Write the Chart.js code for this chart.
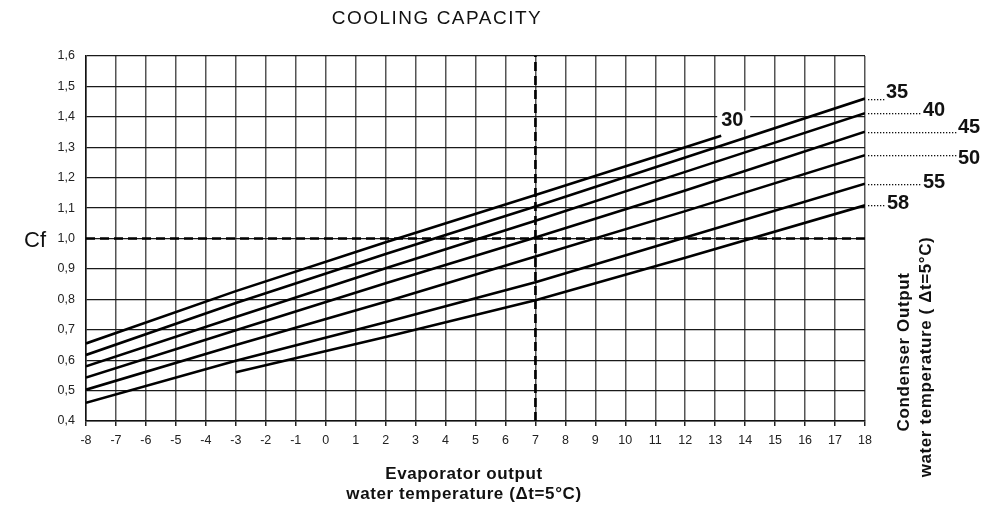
<!DOCTYPE html>
<html><head><meta charset="utf-8">
<script src="https://cdn.jsdelivr.net/npm/chart.js@4"></script>
<style>html,body{margin:0;padding:0;background:#fff}#wrap{width:997px;height:508px;position:relative}</style>
</head><body><div id="wrap"><canvas id="c" width="997" height="508"></canvas></div>
<script>
// ---- data ----
const xStd = [-8, -3, 2, 7, 12, 18];
const x30 = [-8, -3, 2, 7, 12, 13.2];
const x58 = [-3, 2, 7, 12, 18];
const cf30 = [0.655, 0.827, 0.988, 1.143, 1.300, 1.338];
const cf35 = [0.617, 0.788, 0.949, 1.105, 1.266, 1.46];
const cf40 = [0.58, 0.742, 0.902, 1.058, 1.219, 1.412];
const cf45 = [0.543, 0.698, 0.853, 1.003, 1.158, 1.351];
const cf50 = [0.503, 0.65, 0.792, 0.941, 1.09, 1.274];
const cf55 = [0.46, 0.598, 0.725, 0.856, 1.003, 1.18];
const cf58 = [0.56, 0.676, 0.797, 0.937, 1.109];
const condenserLabels = ['30', '35', '40', '45', '50', '55', '58'];
const xRange = [-8, 18];
const yRange = [0.4, 1.6];
const refCf = 1.0;
const refEvap = 7;
const titleText = 'COOLING CAPACITY';
const yTitle = 'Cf';
const xTitle = ['Evaporator output', 'water temperature (\u0394t=5\u00B0C)'];
const rightTitle = ['Condenser Output', 'water temperature ( \u0394t=5\u00B0C)'];

const seriesX = [x30, xStd, xStd, xStd, xStd, xStd, x58];
const seriesY = [cf30, cf35, cf40, cf45, cf50, cf55, cf58];

const toPts = (xs, ys) => xs.map((x, i) => ({x: x, y: ys[i]}));

const datasets = seriesY.map((ys, i) => ({
  label: condenserLabels[i],
  data: toPts(seriesX[i], ys),
  borderColor: '#000', borderWidth: 2.6, pointRadius: 0, tension: 0, fill: false
}));
datasets.push({label: 'ref-h', data: [{x: xRange[0], y: refCf}, {x: xRange[1], y: refCf}],
  borderColor: '#000', borderWidth: 2.6, borderDash: [9, 5], pointRadius: 0});
datasets.push({label: 'ref-v', data: [{x: refEvap, y: yRange[0]}, {x: refEvap, y: yRange[1]}],
  borderColor: '#000', borderWidth: 2.6, borderDash: [9, 5], pointRadius: 0});

const FONT = 'Liberation Sans, Arial, sans-serif';

const textPlugin = {
  id: 'texts',
  afterDatasetsDraw(chart) {
    const ctx = chart.ctx;
    const xs = chart.scales.x, ys = chart.scales.y;
    ctx.save();
    ctx.fillStyle = '#111';
    // title
    ctx.font = '19px ' + FONT;
    ctx.letterSpacing = '1.5px';
    ctx.textAlign = 'center'; ctx.textBaseline = 'middle';
    ctx.fillText(titleText, 437, 19);
    ctx.letterSpacing = '0px';
    // Cf
    ctx.font = '22px ' + FONT;
    ctx.textAlign = 'left';
    ctx.fillText(yTitle, 24, 241);
    // x title
    ctx.font = 'bold 17px ' + FONT;
    ctx.letterSpacing = '0.6px';
    ctx.textAlign = 'center';
    ctx.fillText(xTitle[0], 464, 474);
    ctx.fillText(xTitle[1], 464, 494);
    // right rotated title
    ctx.save();
    ctx.translate(904, 352); ctx.rotate(-Math.PI / 2);
    ctx.fillText(rightTitle[0], 0, 0);
    ctx.restore();
    ctx.save();
    ctx.translate(926, 357); ctx.rotate(-Math.PI / 2);
    ctx.fillText(rightTitle[1], 0, 0);
    ctx.restore();
    ctx.letterSpacing = '0px';

    // series labels
    ctx.font = 'bold 20px ' + FONT;
    ctx.textAlign = 'left'; ctx.textBaseline = 'middle';
    const labelX = [null, 886, 923, 958, 958, 923, 887];
    const labelDy = [0, -6, -3, -4, 3, -1, -2];
    for (let i = 1; i < seriesY.length; i++) {
      const ysr = seriesY[i];
      const py = ys.getPixelForValue(ysr[ysr.length - 1]);
      const px0 = xs.getPixelForValue(xRange[1]) + 3;
      ctx.fillStyle = '#111';
      for (let x = px0; x < labelX[i] - 2; x += 3) ctx.fillRect(Math.round(x), Math.round(py), 1.3, 1.3);
      ctx.fillText(condenserLabels[i], labelX[i], py + labelDy[i]);
    }
    // label 30 at end of its line, with white background
    const lx = xs.getPixelForValue(x30[x30.length - 1]);
    const ly = ys.getPixelForValue(cf30[cf30.length - 1]);
    ctx.fillStyle = '#fff';
    ctx.fillRect(lx - 4, ly - 25, 33, 19);
    ctx.fillStyle = '#111';
    ctx.fillText(condenserLabels[0], lx, ly - 15);
    ctx.restore();
  }
};

new Chart(document.getElementById('c'), {
  type: 'line',
  data: {datasets: datasets},
  options: {
    responsive: false, animation: false, devicePixelRatio: 1,
    layout: {padding: {top: 56, right: 132, bottom: 0, left: 0}},
    plugins: {legend: {display: false}, tooltip: {enabled: false}, title: {display: false}},
    scales: {
      x: {
        type: 'linear', min: xRange[0], max: xRange[1],
        ticks: {stepSize: 1, autoSkip: false, maxRotation: 0, color: '#222', padding: 7,
          font: {family: FONT, size: 12.5}},
        grid: {color: '#555', lineWidth: 1.5, tickLength: 5, tickColor: '#222'},
        border: {display: true, color: '#111', width: 1.5},
        afterFit(s) { s.height = 87; }
      },
      y: {
        type: 'linear', min: yRange[0], max: yRange[1],
        ticks: {stepSize: 0.1, color: '#222', padding: 11, font: {family: FONT, size: 12.5},
          callback: v => v.toFixed(1).replace('.', ',')},
        grid: {color: '#1a1a1a', lineWidth: 1.3, drawTicks: false},
        border: {display: true, color: '#111', width: 1.5},
        afterFit(s) { s.width = 86; }
      }
    }
  },
  plugins: [textPlugin]
});
</script>
</body></html>
